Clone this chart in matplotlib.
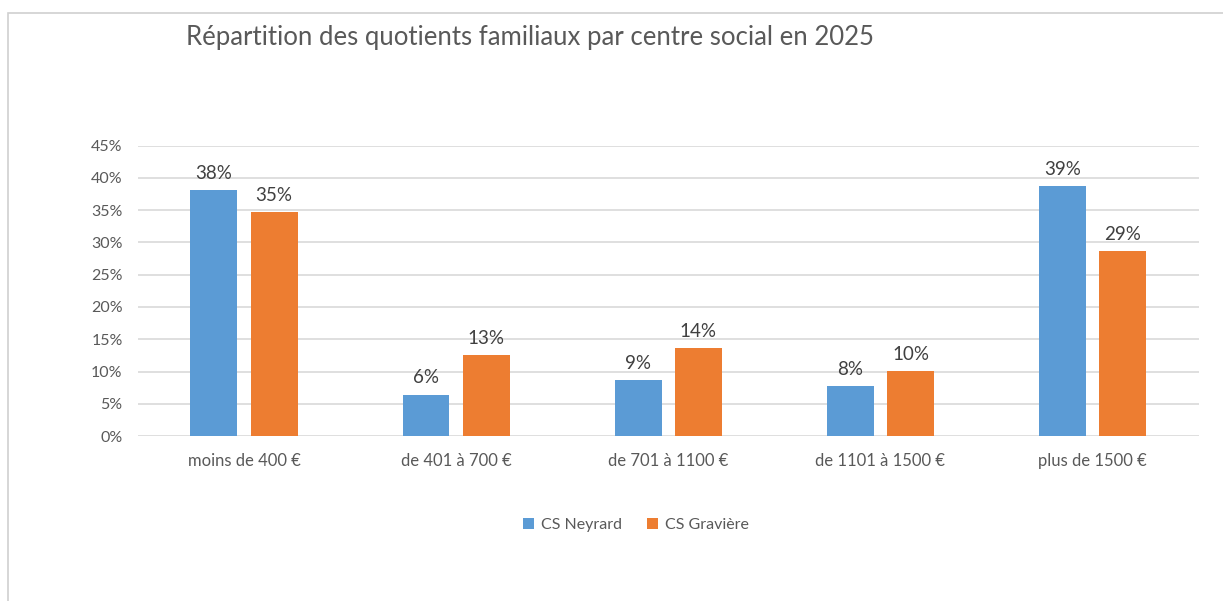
import matplotlib.pyplot as plt
from matplotlib.patches import Rectangle
import numpy as np

categories = ["moins de 400 €", "de 401 à 700 €", "de 701 à 1100 €",
              "de 1101 à 1500 €", "plus de 1500 €"]
neyrard = [38.1, 6.4, 8.7, 7.7, 38.7]
graviere = [34.7, 12.5, 13.6, 10.1, 28.6]
labels_neyrard = ["38%", "6%", "9%", "8%", "39%"]
labels_graviere = ["35%", "13%", "14%", "10%", "29%"]
yticks = [0, 5, 10, 15, 20, 25, 30, 35, 40, 45]

blue = "#5b9bd5"
orange = "#ed7d31"
grey = "#595959"

plt.rcParams['font.family'] = ['Lato', 'DejaVu Sans']

fig = plt.figure(figsize=(12.23, 6.01), dpi=100)
ax = fig.add_axes([0.1128, 0.2745, 0.8672, 0.4831])

# outer chart frame (cut at right and bottom like the screenshot)
fig.patches.append(Rectangle((8 / 1223, -0.1), 1.2, 1 - 13 / 601 + 0.1,
                             transform=fig.transFigure, fill=False,
                             edgecolor="#d0d0d0", linewidth=1.2))

x = np.arange(len(categories))
w = 0.221
b1 = ax.bar(x - 0.142, neyrard, w, color=blue, label="CS Neyrard", zorder=3)
b2 = ax.bar(x + 0.142, graviere, w, color=orange, label="CS Gravière", zorder=3)

for bars, labs in ((b1, labels_neyrard), (b2, labels_graviere)):
    for r, t in zip(bars, labs):
        ax.annotate(t, (r.get_x() + r.get_width() / 2, r.get_height()),
                    xytext=(0, 6), textcoords="offset points",
                    ha="center", va="bottom", fontsize=13.5, color="#404040")

ax.set_xlim(-0.5, len(categories) - 0.5)
ax.set_ylim(0, 45)
ax.set_yticks(yticks)
ax.set_yticklabels([f"{v}%" for v in yticks])
ax.set_xticks(x)
ax.set_xticklabels(categories)
ax.tick_params(axis="both", length=0, colors=grey, labelsize=11.5)
ax.tick_params(axis="x", labelsize=12, pad=12)
ax.tick_params(axis="y", pad=11)
ax.grid(axis="y", color="#d9d9d9", linewidth=1.2, zorder=0)
for s in ax.spines.values():
    s.set_visible(False)

fig.text(0.433, 0.938, "Répartition des quotients familiaux par centre social en 2025",
         ha="center", va="center", fontsize=18.5, color=grey)

fig.legend(handles=[b1, b2], loc="center", bbox_to_anchor=(0.52, 0.126),
           ncol=2, frameon=False, fontsize=11.5, labelcolor=grey,
           handlelength=0.7, handleheight=0.7, handletextpad=0.4,
           columnspacing=1.6)

fig.savefig("out.png", dpi=100)
